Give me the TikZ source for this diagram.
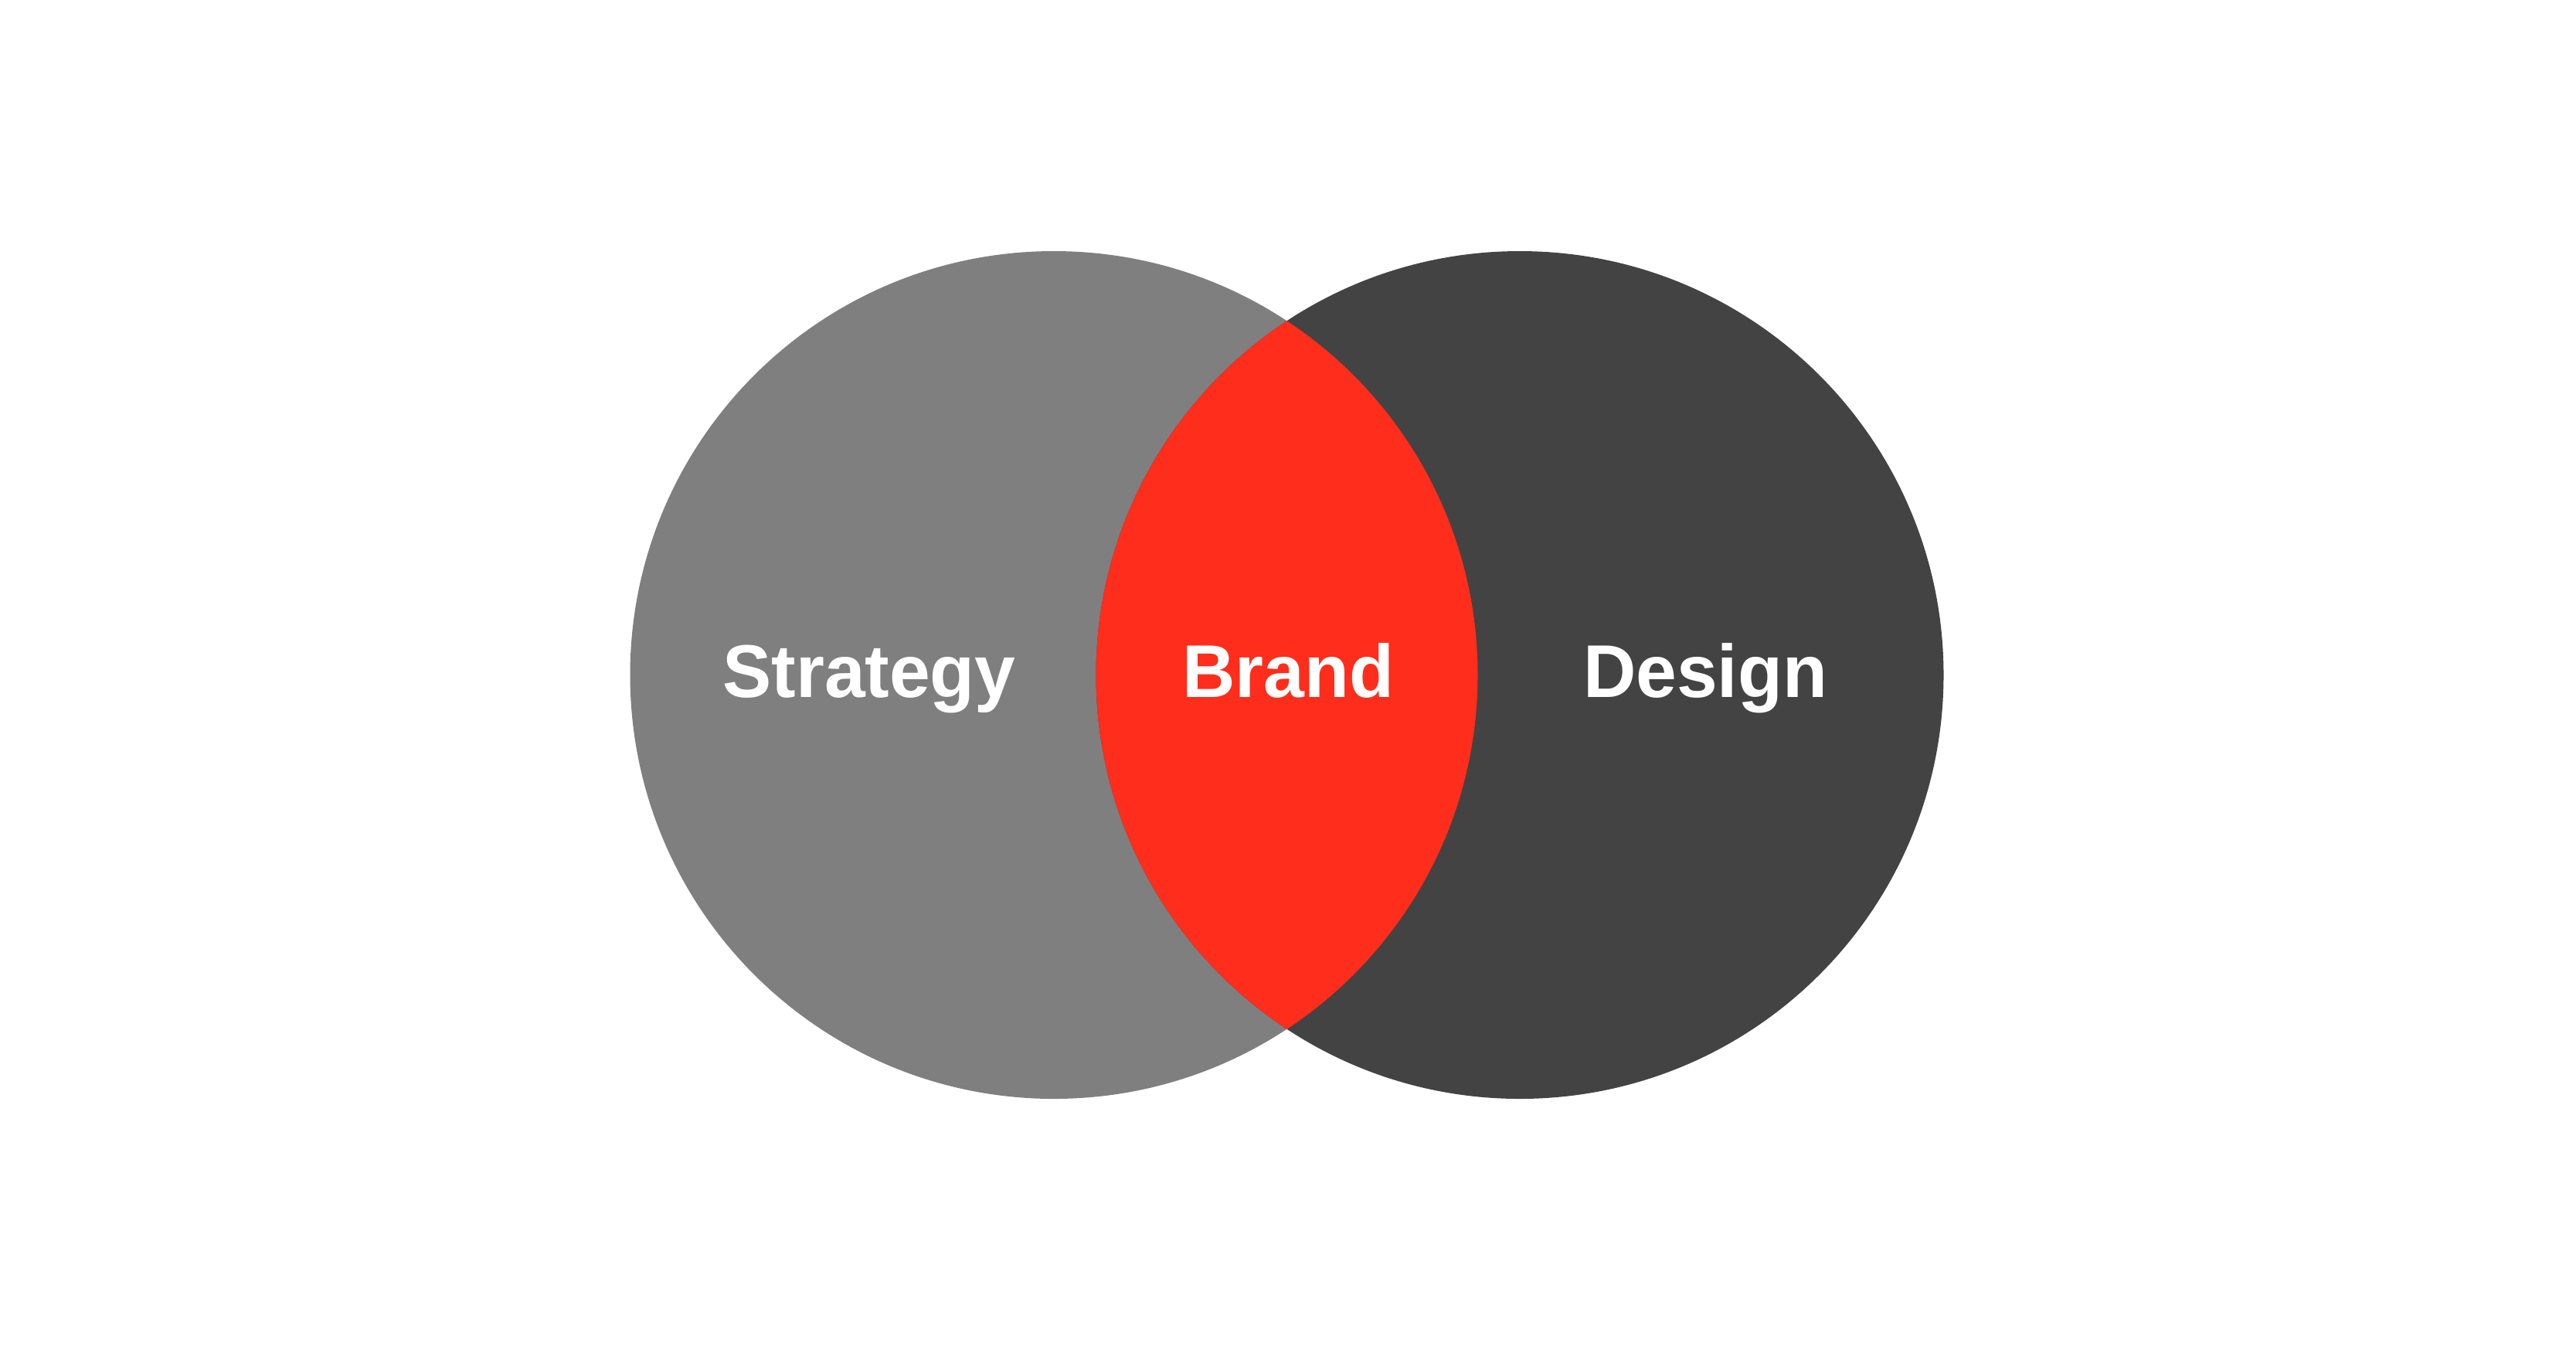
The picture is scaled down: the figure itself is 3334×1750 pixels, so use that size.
\documentclass[tikz,border=0pt]{standalone}
\usepackage{fontspec}
\setmainfont{Liberation Sans}[FakeStretch=0.98]
\definecolor{lgray}{HTML}{7F7F7F}
\definecolor{dgray}{HTML}{434343}
\definecolor{bred}{HTML}{FF2D1C}
\begin{document}
\begin{tikzpicture}[x=0.01cm,y=-0.01cm,
  lbl/.style={text=white,font=\fontsize{27.5}{33}\selectfont\bfseries,anchor=base,inner sep=0pt}]
\useasboundingbox (0,0) rectangle (3334,1750);
\fill[white] (0,0) rectangle (3334,1750);
\coordinate (cl) at (1364,873.5);
\coordinate (cr) at (1967,873.5);
\fill[lgray] (cl) circle[radius=548.5];
\fill[dgray] (cr) circle[radius=548.5];
\begin{scope}
  \clip (cl) circle[radius=548.5];
  \fill[bred] (cr) circle[radius=548.5];
\end{scope}
\node[lbl] (s) at (1125,902) {Strategy};
\node[lbl] (b) at (1667,902) {Brand};
\node[lbl] (d) at (2207,902) {Design};
\end{tikzpicture}
\end{document}
